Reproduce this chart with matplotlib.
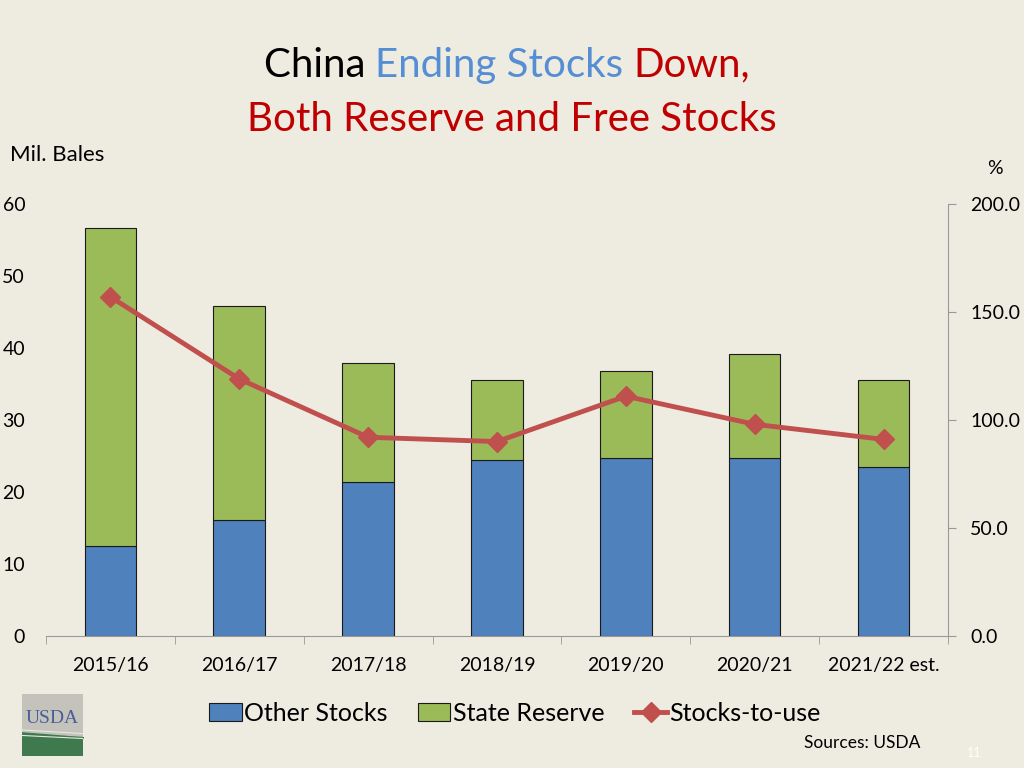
import numpy as np
import matplotlib.pyplot as plt
from matplotlib.ticker import FixedLocator, FormatStrFormatter
from matplotlib.patches import Rectangle

plt.rcParams['font.family'] = ['Lato', 'DejaVu Sans']

# data
years = ['2015/16', '2016/17', '2017/18', '2018/19', '2019/20', '2020/21', '2021/22 est.']
other_stocks = [12.5, 16.1, 21.4, 24.4, 24.7, 24.7, 23.5]
state_reserve = [44.2, 29.7, 16.5, 11.2, 12.1, 14.5, 12.1]
stocks_to_use = [157, 119, 92, 90, 111, 98, 91]

bg = '#EEEBE1'
fig = plt.figure(figsize=(10.24, 7.68), dpi=100, facecolor=bg)
ax = fig.add_axes([0.0449, 0.1719, 0.8809, 0.5625])
ax.set_facecolor(bg)

x = np.arange(len(years))
b1 = ax.bar(x, other_stocks, width=0.4, color='#4F81BD', edgecolor='#1a1a1a', linewidth=0.8,
            label='Other Stocks', zorder=2)
b2 = ax.bar(x, state_reserve, width=0.4, bottom=other_stocks, color='#9BBB59',
            edgecolor='#1a1a1a', linewidth=0.8, label='State Reserve', zorder=2)
ax.set_xlim(-0.5, len(years) - 0.5)
ax.set_ylim(0, 60)
ax.set_yticks(range(0, 61, 10))
ax.tick_params(axis='y', length=0, pad=15, labelsize=14)
ax.set_xticks(x)
ax.set_xticklabels(years, fontsize=14)
ax.tick_params(axis='x', length=0, pad=15)
ax.xaxis.set_minor_locator(FixedLocator(np.arange(-0.5, len(years), 1)))
ax.tick_params(axis='x', which='minor', length=6, color='#999999', direction='out')
for s in ['top', 'left', 'right']:
    ax.spines[s].set_visible(False)
ax.spines['bottom'].set_color('#999999')

ax2 = ax.twinx()
ln, = ax2.plot(x, stocks_to_use, color='#C0504D', lw=3.5, marker='D', markersize=10,
               label='Stocks-to-use', zorder=3)
ax2.set_ylim(0, 200)
ax2.set_yticks(range(0, 201, 50))
ax2.yaxis.set_major_formatter(FormatStrFormatter('%.1f'))
ax2.tick_params(axis='y', length=6, color='#999999', labelsize=14, pad=10)
for s in ['top', 'left', 'bottom']:
    ax2.spines[s].set_visible(False)
ax2.spines['right'].set_color('#999999')

# title, first line in three colours
t1 = fig.text(0, 0.915, 'China ', fontsize=29, color='black', va='center')
t2 = fig.text(0, 0.915, 'Ending Stocks ', fontsize=29, color='#558ED5', va='center')
t3 = fig.text(0, 0.915, 'Down,', fontsize=29, color='#C00000', va='center')
fig.canvas.draw()
r = fig.canvas.get_renderer()
w1 = t1.get_window_extent(r).width
w2 = t2.get_window_extent(r).width
w3 = t3.get_window_extent(r).width
start = (1024 - (w1 + w2 + w3)) / 2 - 5
t1.set_position((start / 1024, 0.915))
t2.set_position(((start + w1) / 1024, 0.915))
t3.set_position(((start + w1 + w2) / 1024, 0.915))
fig.text(0.5, 0.845, 'Both Reserve and Free Stocks', fontsize=29, color='#C00000',
         ha='center', va='center')

fig.text(0.01, 0.798, 'Mil. Bales', fontsize=16, va='center')
fig.text(0.964, 0.781, '%', fontsize=14, va='center')

fig.legend(handles=[b1, b2, ln], loc='center', bbox_to_anchor=(0.503, 0.071), ncol=3,
           frameon=False, fontsize=18, handlelength=1.3, handletextpad=0.1,
           columnspacing=1.2)

fig.text(0.785, 0.032, 'Sources: USDA', fontsize=12.5, va='center')
fig.text(0.944, 0.02, '11', fontsize=9, color='white', va='center')

# simple USDA logo
lg = fig.add_axes([0.021, 0.016, 0.06, 0.08])
lg.set_xlim(0, 1)
lg.set_ylim(0, 1)
lg.axis('off')
lg.add_patch(Rectangle((0, 0), 1, 1, color='#C4C3BB'))
lg.add_patch(Rectangle((0, 0), 1, 0.3, color='#3E7A4E'))
xs = np.linspace(0, 1, 50)
lg.fill_between(xs, 0.3, 0.3 + 0.08 * (1 - xs), color='#3E7A4E')
lg.plot(xs, 0.36 + 0.06 * (1 - xs), color='#E8E8E0', lw=0.8)
lg.plot(xs, 0.28 + 0.05 * (1 - xs), color='#E8E8E0', lw=0.8)
lg.text(0.5, 0.6, 'USDA', ha='center', va='center', fontsize=14, color='#4A5D9A',
        family='Liberation Serif')

fig.savefig('out.png', dpi=100, facecolor=bg)
